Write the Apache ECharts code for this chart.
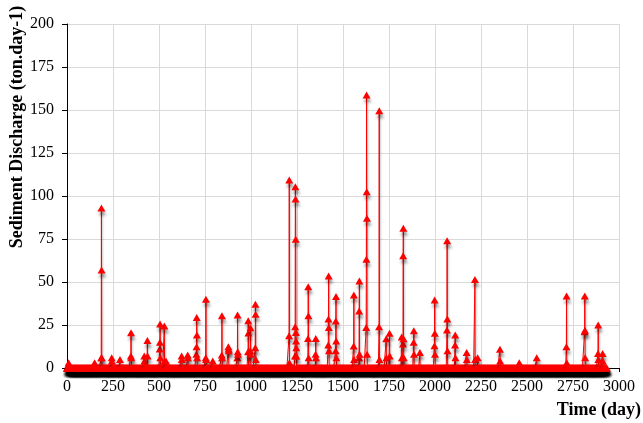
<!DOCTYPE html>
<html>
<head>
<meta charset="utf-8">
<script src="https://cdn.jsdelivr.net/npm/echarts@6/dist/echarts.min.js"></script>
<style>
  html, body { margin: 0; padding: 0; background: #fff; }
  #chart { width: 643px; height: 423px; }
</style>
</head>
<body>
<div id="chart"></div>
<script>
// Daily sediment discharge record (ton/day). Days not listed in the
// event table carried no measurable load.
const recordLength = 2934;          // days 0 .. 2933

// Event table: [first day, loads on consecutive days]
const eventStartDays = [
  8, 150, 186, 243, 288, 347, 420, 437, 504, 529,
  538, 623, 656, 703, 754, 792, 841, 877, 926, 984,
  996, 1023, 1207, 1239, 1310, 1351, 1420, 1460, 1558, 1587,
  1626, 1696, 1735, 1753, 1819, 1826, 1884, 1918, 1997, 2065,
  2109, 2172, 2217, 2232, 2353, 2458, 2553, 2714, 2813, 2886,
  2911
];
const eventLoads = [
  [2, 3, 1], [3, 2], [6, 93, 57, 6], [6, 4], [5], [7, 20.5, 6], [7, 4], [16, 7], [11, 15, 25.6, 6], [24.4, 4],
  [4], [7, 5], [7.5, 6], [8, 12.4, 29.3, 19.2, 6], [6, 40, 5], [4], [7.5, 30.4, 6], [12.4, 11, 10], [6, 30.8, 9.5, 8], [9.5, 27.5, 20.3],
  [10, 23.4, 8], [11.8, 37, 31.2, 5], [18.8, 109.3, 3], [7, 24, 105.4, 98.3, 74.8, 20.7, 15.7, 11.8, 7], [17.2, 47.3, 30.4, 6], [8, 17.2, 6], [13.4, 28.5, 53.5, 23.6, 10], [10, 27.3, 41.5, 15.7, 6], [12.8, 42.4, 5], [6, 33.1, 50.6, 8],
  [23.6, 63.2, 158.7, 102.5, 87, 8], [24, 149.6, 5], [17, 6], [20.2, 7], [18, 6], [14, 65.3, 81.2, 17, 6], [15, 21.7, 8], [9], [13, 39.5, 20.2, 8], [22.1, 74, 28.5, 10],
  [13.4, 19.2, 6], [9, 5], [51.5, 5], [6], [10.9, 4], [3], [6], [12.4, 41.9, 3], [21.1, 41.9, 22, 6], [8.5, 25, 5],
  [8.5, 4]
];

const xTicks = { min: 0, max: 3000, step: 250 };
const yTicks = { min: 0, max: 200, step: 25 };

// Assemble the daily series
const dailyLoad = new Array(recordLength).fill(0);
eventStartDays.forEach((start, i) => {
  eventLoads[i].forEach((v, k) => { dailyLoad[start + k] = v; });
});
const seriesData = dailyLoad.map((v, day) => [day, v]);

const serif = '"Liberation Serif", "Times New Roman", serif';
const chart = echarts.init(document.getElementById('chart'), null, { renderer: 'canvas' });

chart.setOption({
  animation: false,
  backgroundColor: '#ffffff',
  grid: { left: 67, right: 24, top: 24, bottom: 55, containLabel: false },
  xAxis: {
    type: 'value',
    min: xTicks.min, max: xTicks.max, interval: xTicks.step,
    axisLine: { show: true, onZero: false, lineStyle: { color: '#000', width: 1 } },
    axisTick: { show: true, length: 4, lineStyle: { color: '#000' } },
    axisLabel: { margin: 11, color: '#000', fontFamily: serif, fontSize: 16, formatter: v => String(v) },
    splitLine: { show: true, lineStyle: { color: '#d9d9d9', width: 1 } }
  },
  yAxis: {
    type: 'value',
    min: yTicks.min, max: yTicks.max, interval: yTicks.step,
    axisLine: { show: true, lineStyle: { color: '#000', width: 1 } },
    axisTick: { show: true, length: 5, lineStyle: { color: '#000' } },
    axisLabel: { margin: 13, color: '#000', fontFamily: serif, fontSize: 16, formatter: v => String(v) },
    splitLine: { show: true, lineStyle: { color: '#d9d9d9', width: 1 } }
  },
  graphic: [
    {
      type: 'text',
      x: 17, y: 127,
      rotation: Math.PI / 2,
      style: {
        text: 'Sediment Discharge (ton.day-1)',
        fill: '#000',
        font: 'bold 18px ' + serif,
        textAlign: 'center',
        textVerticalAlign: 'middle'
      }
    },
    {
      type: 'text',
      x: 641, y: 410,
      style: {
        text: 'Time (day)',
        fill: '#000',
        font: 'bold 18px ' + serif,
        textAlign: 'right',
        textVerticalAlign: 'middle'
      }
    }
  ],
  series: [{
    type: 'line',
    data: seriesData,
    showSymbol: true,
    showAllSymbol: true,
    symbol: 'triangle',
    symbolSize: [8, 7],
    clip: false,
    lineStyle: {
      color: '#ff0000', width: 1,
      shadowColor: 'rgba(0,0,0,0.25)', shadowBlur: 2, shadowOffsetX: 1, shadowOffsetY: 1
    },
    itemStyle: {
      color: '#ff0000',
      shadowColor: 'rgba(0,0,0,0.35)', shadowBlur: 3, shadowOffsetX: 1, shadowOffsetY: 4
    },
    emphasis: { disabled: true }
  }]
});
</script>
</body>
</html>
